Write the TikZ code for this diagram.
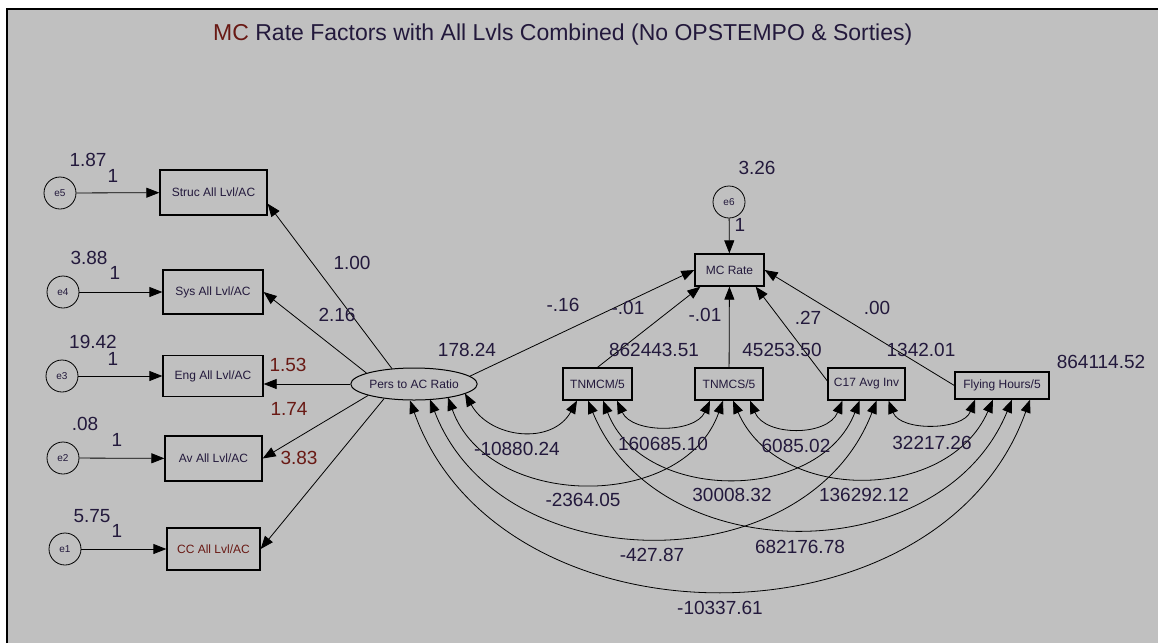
\documentclass[tikz,border=0pt]{standalone}
\usepackage{fontspec}
\setmainfont{Liberation Sans}
\usetikzlibrary{arrows.meta,shapes.geometric}
\definecolor{bg}{HTML}{C0C0C0}
\definecolor{txt}{RGB}{35,25,60}
\definecolor{dred}{RGB}{105,25,20}
\tikzset{
 obs/.style={draw, line width=1.3pt, inner sep=0pt, font=\fontsize{12}{14}\selectfont, text=txt},
 err/.style={circle, draw, line width=0.8pt, minimum size=32pt, inner sep=0pt, font=\fontsize{10}{12}\selectfont, text=txt},
 lat/.style={ellipse, draw, line width=1pt, minimum width=124pt, minimum height=32pt, inner sep=0pt, font=\fontsize{12}{14}\selectfont, text=txt},
 pth/.style={-{Triangle[length=13pt,width=10pt]}, line width=0.8pt},
 cov/.style={{Triangle[length=13pt,width=10pt]}-{Triangle[length=13pt,width=10pt]}, line width=0.8pt},
 lab/.style={font=\fontsize{19}{22}\selectfont, text=txt, inner sep=0pt},
 rlab/.style={lab, text=dred},
}
\begin{document}
\begin{tikzpicture}[x=1pt,y=-1pt]
\useasboundingbox (0,0) rectangle (1158,643);
\fill[white] (0,0) rectangle (1158,643);
\fill[bg] (7,9) rectangle (1158,643);
\draw[line width=2.5pt] (7,643) -- (7,9) -- (1158,9);

\node[anchor=base west, font=\fontsize{23}{26}\selectfont, text=txt, inner sep=0pt] (title) at (213,40)
 {\textcolor{dred}{MC} Rate Factors with All Lvls Combined (No OPSTEMPO \& Sorties)};

% observed, left
\node[obs, minimum width=107pt, minimum height=45pt] (struc) at (213.5,192.5) {Struc All Lvl/AC};
\node[obs, minimum width=100pt, minimum height=44pt] (sys) at (213,292) {Sys All Lvl/AC};
\node[obs, minimum width=100pt, minimum height=41pt] (eng) at (213,376) {Eng All Lvl/AC};
\node[obs, minimum width=97pt, minimum height=45pt] (av) at (213.5,458.5) {Av All Lvl/AC};
\node[obs, minimum width=93pt, minimum height=42pt, text=dred] (cc) at (213.5,549) {CC All Lvl/AC};

% errors
\node[err] (e5) at (60,193) {e5};
\node[err] (e4) at (63,292) {e4};
\node[err] (e3) at (62,376) {e3};
\node[err] (e2) at (63,458) {e2};
\node[err] (e1) at (65,549) {e1};
\node[err] (e6) at (729,202) {e6};

% latent
\node[lat] (pers) at (414,384) {Pers to AC Ratio};

% right
\node[obs, minimum width=69pt, minimum height=32pt] (mc) at (729.5,270) {MC Rate};
\node[obs, minimum width=69pt, minimum height=32pt] (tnmcm) at (597.5,384) {TNMCM/5};
\node[obs, minimum width=68pt, minimum height=32pt] (tnmcs) at (729,384) {TNMCS/5};
\node[obs, minimum width=77pt, minimum height=32pt] (c17) at (866.5,384) {C17 Avg Inv};
\node[obs, minimum width=94pt, minimum height=27pt] (fh) at (1002,385.5) {Flying Hours/5};

% error paths
\draw[pth] (e5) -- (struc);
\draw[pth] (e4) -- (sys);
\draw[pth] (e3) -- (eng);
\draw[pth] (e2) -- (av);
\draw[pth] (e1) -- (cc);
\draw[pth] (e6) -- (mc);

% loadings
\draw[pth] (pers.145) -- ([yshift=12pt]struc.south east);
\draw[pth] (pers.167) -- (sys.east);
\draw[pth] (pers.west) -- (pers.west -| eng.east);
\draw[pth] (pers.194) -- (av.east);
\draw[pth] (pers.206) -- (cc.east);

% regression to MC
\draw[pth] (pers.8) -- (mc.west);
\draw[pth] (tnmcm.north) -- ([xshift=6pt]mc.south west);
\draw[pth] (tnmcs) -- (mc);
\draw[pth] ([yshift=3pt]c17.west) -- ([xshift=-9pt]mc.south east);
\draw[pth] (fh.west) -- (mc.east);

% covariances
\draw[cov] ([xshift=51pt,yshift=7pt]pers.south) .. controls +(25,45) and +(-25,45) .. ([xshift=-20.5pt]tnmcm.south);
\draw[cov] ([xshift=34pt,yshift=3pt]pers.south) .. controls +(40,112) and +(-40,112) .. ([xshift=-6pt]tnmcs.south);
\draw[cov] ([xshift=16pt,yshift=1pt]pers.south) .. controls +(70,183) and +(-70,183) .. ([xshift=10pt]c17.south);
\draw[cov] ([xshift=-4pt]pers.south) .. controls +(90,253) and +(-90,253) .. ([xshift=28pt]fh.south);
\draw[cov] ([xshift=19.5pt]tnmcm.south) .. controls +(15,33) and +(-15,33) .. ([xshift=-19pt]tnmcs.south);
\draw[cov] ([xshift=5.5pt]tnmcm.south) .. controls +(40,103) and +(-40,103) .. ([xshift=-7pt]c17.south);
\draw[cov] ([xshift=-9.5pt]tnmcm.south) .. controls +(70,171) and +(-70,171) .. ([xshift=10pt]fh.south);
\draw[cov] ([xshift=21pt]tnmcs.south) .. controls +(15,36) and +(-15,36) .. ([xshift=-24pt]c17.south);
\draw[cov] ([xshift=4pt]tnmcs.south) .. controls +(45,103) and +(-45,103) .. ([xshift=-9pt]fh.south);
\draw[cov] ([xshift=22pt]c17.south) .. controls +(12,31) and +(-12,31) .. ([xshift=-27pt]fh.south);

% labels
\node[lab] (l1) at (88,160) {1.87};
\node[lab] (l2) at (113,176) {1};
\node[lab] (l3) at (89,258) {3.88};
\node[lab] (l4) at (115,273) {1};
\node[lab] (l5) at (93,342) {19.42};
\node[lab] (l6) at (113,359) {1};
\node[lab] (l7) at (85,424) {.08};
\node[lab] (l8) at (117,440) {1};
\node[lab] (l9) at (92,516) {5.75};
\node[lab] (l10) at (117,531) {1};
\node[lab] (l11) at (352,263) {1.00};
\node[lab] (l12) at (337,315) {2.16};
\node[rlab] (l13) at (288,365) {1.53};
\node[rlab] (l14) at (289,409) {1.74};
\node[rlab] (l15) at (299,458) {3.83};
\node[lab] (l16) at (467,350) {178.24};
\node[lab] (l17) at (757,168) {3.26};
\node[lab] (l18) at (740,225) {1};
\node[lab] (l19) at (563,305) {-.16};
\node[lab] (l20) at (628,308) {-.01};
\node[lab] (l21) at (705,315) {-.01};
\node[lab] (l22) at (654,350) {862443.51};
\node[lab] (l23) at (782,350) {45253.50};
\node[lab] (l24) at (808,318) {.27};
\node[lab] (l25) at (877,308) {.00};
\node[lab] (l26) at (921,350) {1342.01};
\node[lab] (l27) at (1101,362) {864114.52};
\node[lab] (l28) at (517,449) {-10880.24};
\node[lab] (l29) at (663,444) {160685.10};
\node[lab] (l30) at (796,446) {6085.02};
\node[lab] (l31) at (932,443) {32217.26};
\node[lab] (l32) at (583,500) {-2364.05};
\node[lab] (l33) at (732,495) {30008.32};
\node[lab] (l34) at (864,495) {136292.12};
\node[lab] (l35) at (652,555) {-427.87};
\node[lab] (l36) at (800,547) {682176.78};
\node[lab] (l37) at (720,608) {-10337.61};
\end{tikzpicture}
\end{document}
